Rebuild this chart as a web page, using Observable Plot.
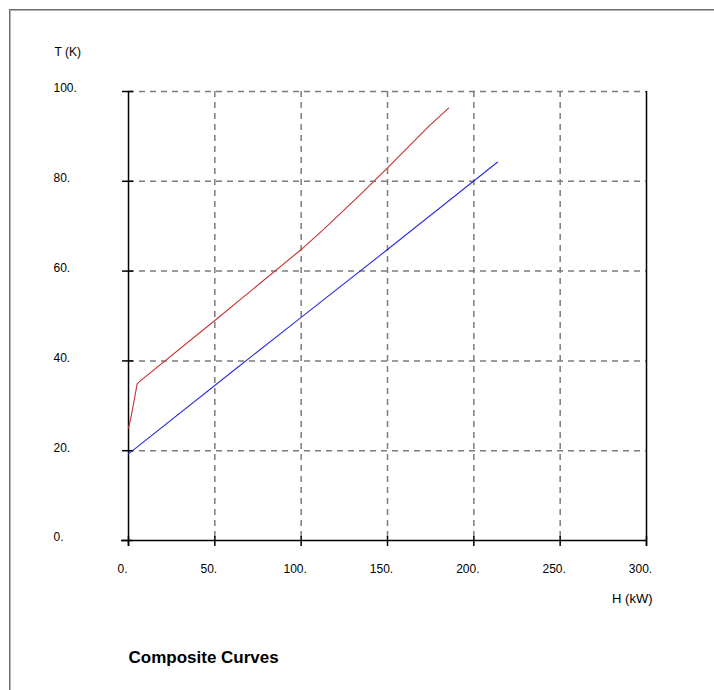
<!DOCTYPE html>
<html>
<head>
<meta charset="utf-8">
<script src="https://cdn.jsdelivr.net/npm/d3@7"></script>
<script src="https://cdn.jsdelivr.net/npm/@observablehq/plot@0.6"></script>
<style>
  html, body { margin: 0; padding: 0; background: #fff; }
  #wrap { position: relative; width: 714px; height: 690px; overflow: hidden; }
  #border { position: absolute; left: 9px; top: 9px; width: 720px; height: 700px;
            border-left: 1px solid #6a6a6a; border-top: 1px solid #6a6a6a;
            box-shadow: inset 1px 1px 0 #b4b4b4; pointer-events: none; }
  svg { font-family: "Liberation Sans", Arial, sans-serif; }
</style>
</head>
<body>
<div id="wrap"><div id="border"></div></div>
<script>
// Hot composite curve (red)
const hotH = [0, 1.6, 2.9, 5.0, 7, 50, 100, 113, 135, 150, 174.3, 185.4];
const hotT = [25, 27.8, 30.4, 34.9, 35.6, 49.0, 64.8, 69.3, 77.3, 83.0, 92.4, 96.3];
// Cold composite curve (blue)
const coldH = [0, 62, 100, 150, 213.8];
const coldT = [19.3, 38.2, 49.7, 64.8, 84.3];

const xTicks = [0, 50, 100, 150, 200, 250, 300];
const yTicks = [0, 20, 40, 60, 80, 100];
const xGrid = [50, 100, 150, 200, 250];
const yGrid = [20, 40, 60, 80, 100];

const title = "Composite Curves";
const xLabel = "H (kW)";
const yLabel = "T (K)";

const hot = hotH.map((h, i) => ({H: h, T: hotT[i]}));
const cold = coldH.map((h, i) => ({H: h, T: coldT[i]}));

const W = 714, Hgt = 690, mL = 128, mR = 68, mT = 91, mB = 150;
const frameW = W - mL - mR, frameH = Hgt - mT - mB;
const fmt = d => d + ".";

const chart = Plot.plot({
  width: W, height: Hgt,
  marginLeft: mL, marginRight: mR, marginTop: mT, marginBottom: mB,
  x: {domain: [0, 300]},
  y: {domain: [0, 100]},
  style: {fontFamily: "Liberation Sans, Arial, sans-serif", fontSize: "12px", color: "#000", background: "transparent", overflow: "visible"},
  marks: [
    Plot.gridX(xGrid, {stroke: "#7c7c7c", strokeOpacity: 1, strokeWidth: 1.5, strokeDasharray: "6,5"}),
    Plot.gridY(yGrid, {stroke: "#7c7c7c", strokeOpacity: 1, strokeWidth: 1.5, strokeDasharray: "6,5"}),
    Plot.ruleX([0, 300], {stroke: "#000", strokeWidth: 1.5, insetBottom: -6}),
    Plot.ruleY([0], {stroke: "#000", strokeWidth: 1.5, insetLeft: -7}),
    Plot.tickX(xTicks, {x: d => d, stroke: "#000", strokeWidth: 1.5, insetTop: frameH - 4, insetBottom: -6}),
    Plot.tickY(yTicks, {y: d => d, stroke: "#000", strokeWidth: 1.5, insetLeft: -6, insetRight: frameW - 5}),
    Plot.line(cold, {x: "H", y: "T", stroke: "#2c2ce0", strokeWidth: 1.1}),
    Plot.line(hot, {x: "H", y: "T", stroke: "#c83030", strokeWidth: 1.1}),
    Plot.axisX(xTicks, {tickSize: 0, tickPadding: 24, dx: -6, tickFormat: fmt, fontSize: 12, label: null}),
    Plot.axisY(yTicks, {tickSize: 0, tickPadding: 75, textAnchor: "start", dy: -3, tickFormat: fmt, fontSize: 12, label: null}),
    Plot.text([yLabel], {frameAnchor: "top-left", dx: -74, dy: -44, textAnchor: "start", fontSize: 12, letterSpacing: "0.5px"}),
    Plot.text([xLabel], {frameAnchor: "bottom-right", dx: 6, dy: 62, textAnchor: "end", fontSize: 13, letterSpacing: "1px"}),
    Plot.text([title], {frameAnchor: "bottom-left", dx: 0, dy: 122, textAnchor: "start", fontSize: 17, fontWeight: "bold", letterSpacing: "0.3px"})
  ]
});
document.getElementById("wrap").appendChild(chart);
</script>
</body>
</html>
